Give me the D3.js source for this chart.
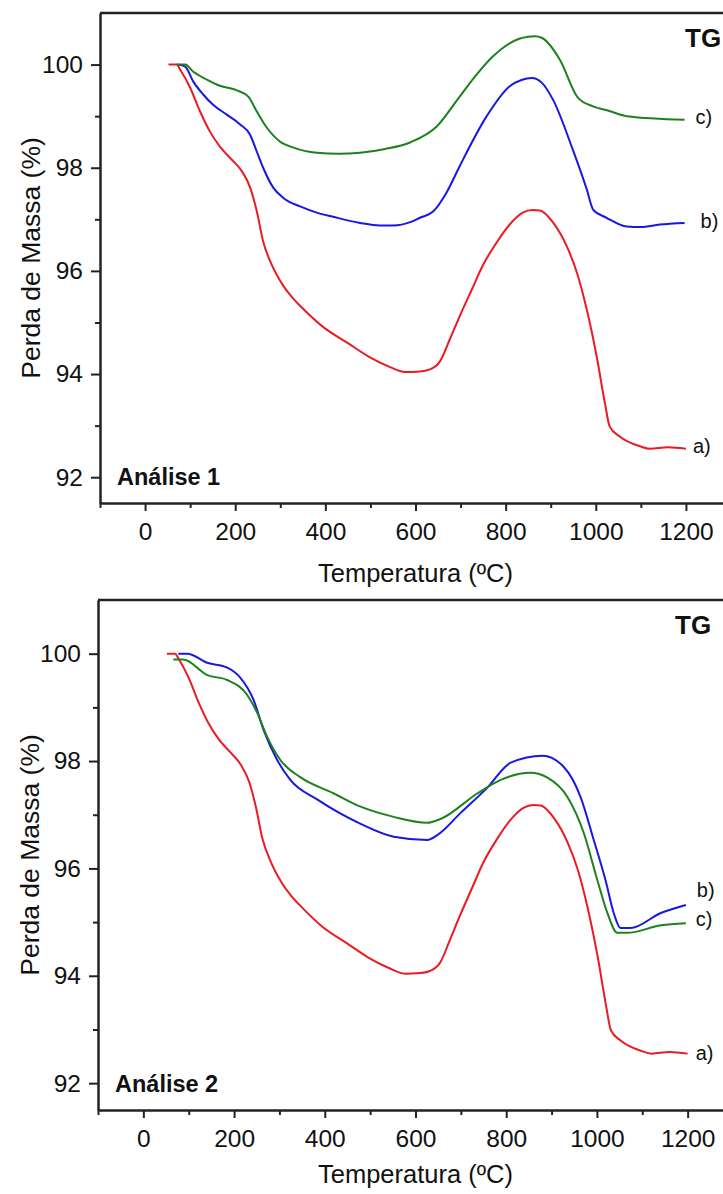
<!DOCTYPE html>
<html>
<head>
<meta charset="utf-8">
<script src="https://cdn.jsdelivr.net/npm/d3@7"></script>
<style>
  html, body { margin: 0; padding: 0; background: #fff; }
  svg { display: block; }
  text { font-family: "Liberation Sans", Arial, Helvetica, sans-serif; fill: #111; }
</style>
</head>
<body>
<svg id="chart" width="723" height="1194"></svg>
<script>
// ---------- data ----------
const xTickValues = [0, 200, 400, 600, 800, 1000, 1200];
const yTickValues = [92, 94, 96, 98, 100];
const xLabel = "Temperatura (ºC)";
const yLabel = "Perda de Massa (%)";
const panelTitles = ["Análise 1", "Análise 2"];
const cornerLabel = "TG";

// a) — same curve in both panels
const tempA = [52, 62, 70, 78, 100, 122, 144, 166, 192, 215, 233, 248, 262, 281, 306, 325, 350, 394, 450, 496, 540, 577, 610, 632, 654, 676, 698, 725, 749, 780, 809, 838, 860, 876, 905, 936, 958, 980, 1002, 1020, 1031, 1053, 1098, 1120, 1160, 1200];
const massA = [100, 100, 100, 99.9, 99.55, 99.09, 98.7, 98.41, 98.16, 97.93, 97.62, 97.15, 96.57, 96.12, 95.72, 95.5, 95.27, 94.92, 94.6, 94.34, 94.15, 94.04, 94.05, 94.09, 94.24, 94.67, 95.12, 95.64, 96.1, 96.55, 96.9, 97.13, 97.18, 97.17, 96.94, 96.47, 95.97, 95.25, 94.34, 93.45, 92.98, 92.79, 92.6, 92.55, 92.58, 92.55];

// Análise 1, b)
const tempB1 = [73, 89, 107, 129, 151, 181, 211, 233, 248, 262, 284, 306, 344, 381, 417, 477, 521, 550, 590, 610, 639, 669, 698, 758, 809, 835, 858, 880, 905, 949, 980, 994, 1024, 1069, 1100, 1142, 1197];
const massB1 = [100, 99.96, 99.67, 99.42, 99.22, 99.03, 98.84, 98.64, 98.31, 98.0, 97.62, 97.42, 97.25, 97.13, 97.05, 96.93, 96.88, 96.88, 96.95, 97.03, 97.15, 97.52, 98.03, 99.0, 99.58, 99.7, 99.74, 99.65, 99.32, 98.35, 97.58, 97.19, 97.03, 96.86, 96.85, 96.9, 96.93];

// Análise 1, c)
const tempC1 = [70, 89, 107, 137, 166, 204, 229, 248, 270, 299, 329, 381, 430, 477, 530, 588, 647, 698, 735, 772, 830, 850, 865, 880, 920, 960, 994, 1030, 1069, 1197];
const massC1 = [100, 100, 99.86, 99.71, 99.59, 99.5, 99.38, 99.09, 98.78, 98.51, 98.39, 98.29, 98.27, 98.29, 98.36, 98.49, 98.8, 99.38, 99.8, 100.16, 100.5, 100.54, 100.55, 100.52, 100.1, 99.36, 99.19, 99.1, 99.0, 98.93];

// Análise 2, b)
const tempB2 = [77, 97, 141, 185, 214, 243, 265, 295, 324, 384, 479, 552, 626, 648, 699, 758, 810, 880, 927, 964, 993, 1019, 1037, 1052, 1074, 1141, 1196];
const massB2 = [100, 100, 99.83, 99.74, 99.55, 99.14, 98.58, 98.02, 97.65, 97.28, 96.83, 96.59, 96.53, 96.62, 97.03, 97.5, 97.97, 98.1, 97.89, 97.33, 96.53, 95.78, 95.17, 94.89, 94.89, 95.17, 95.32];

// Análise 2, c)
const tempC2 = [66, 88, 141, 185, 229, 251, 273, 302, 346, 419, 479, 552, 626, 655, 737, 788, 854, 891, 935, 971, 1001, 1023, 1045, 1067, 1141, 1196];
const massC2 = [99.89, 99.89, 99.6, 99.51, 99.23, 98.9, 98.45, 98.02, 97.7, 97.4, 97.15, 96.96, 96.85, 96.92, 97.4, 97.65, 97.78, 97.69, 97.33, 96.66, 95.78, 95.17, 94.8, 94.8, 94.94, 94.98];

const seriesNames = ["a)", "b)", "c)"];
const seriesColors = ["#ea1b22", "#1818e2", "#1d821d"];

// ---------- layout ----------
const panels = [
  { top: 13, bottom: 503, left: 100, right: 731, title: panelTitles[0],
    series: [[tempA, massA], [tempB1, massB1], [tempC1, massC1]],
    labelDy: [2, 3, 2], labelDx: [7, 16, 11], xTitleY: 582, yTitleX: 40, tgX: 685 },
  { top: 600, bottom: 1110, left: 98, right: 733, title: panelTitles[1],
    series: [[tempA, massA], [tempB2, massB2], [tempC2, massC2]],
    labelDy: [4, -10, 0], labelDx: [8, 11, 10], xTitleY: 1183, yTitleX: 39, tgX: 675 }
];

const svg = d3.select("#chart");

panels.forEach(p => {
  const x = d3.scaleLinear().domain([-100, 1300]).range([p.left, p.right]);
  const y = d3.scaleLinear().domain([91.5, 101]).range([p.bottom, p.top]);
  const g = svg.append("g");

  // x axis: minor ticks
  const xMinor = d3.range(-100, 1301, 200);
  g.append("g")
    .attr("transform", `translate(0,${p.bottom})`)
    .call(d3.axisBottom(x).tickValues(xMinor).tickSize(5).tickFormat(""))
    .call(a => a.select(".domain").remove())
    .call(a => a.selectAll("line").attr("stroke", "#222").attr("stroke-width", 2));
  // x axis: major ticks
  g.append("g")
    .attr("transform", `translate(0,${p.bottom})`)
    .call(d3.axisBottom(x).tickValues(xTickValues).tickFormat(d3.format("d")).tickSize(8).tickPadding(12).tickSizeOuter(0))
    .call(a => a.select(".domain").attr("stroke", "#222").attr("stroke-width", 2.5))
    .call(a => a.selectAll("line").attr("stroke", "#222").attr("stroke-width", 2))
    .call(a => a.selectAll("text").style("font-size", "24.5px").attr("fill", "#111"));

  // y axis: minor ticks
  const yMinor = [93, 95, 97, 99];
  g.append("g")
    .attr("transform", `translate(${p.left},0)`)
    .call(d3.axisLeft(y).tickValues(yMinor).tickSize(5).tickFormat(""))
    .call(a => a.select(".domain").remove())
    .call(a => a.selectAll("line").attr("stroke", "#222").attr("stroke-width", 2));
  // y axis: major
  g.append("g")
    .attr("transform", `translate(${p.left},0)`)
    .call(d3.axisLeft(y).tickValues(yTickValues).tickFormat(d3.format("d")).tickSize(9).tickPadding(8).tickSizeOuter(0))
    .call(a => a.select(".domain").attr("stroke", "#222").attr("stroke-width", 2.5))
    .call(a => a.selectAll("line").attr("stroke", "#222").attr("stroke-width", 2))
    .call(a => a.selectAll("text").style("font-size", "24.5px").attr("fill", "#111"));

  // top frame line
  g.append("line")
    .attr("x1", p.left).attr("x2", p.right)
    .attr("y1", p.top).attr("y2", p.top)
    .attr("stroke", "#222").attr("stroke-width", 2.5);
  // right frame line (outside visible area)
  g.append("line")
    .attr("x1", p.right).attr("x2", p.right)
    .attr("y1", p.top).attr("y2", p.bottom)
    .attr("stroke", "#222").attr("stroke-width", 2.5);

  // curves
  const line = d3.line()
    .x(d => x(d[0])).y(d => y(d[1]))
    .curve(d3.curveMonotoneX);
  p.series.forEach((s, i) => {
    const pts = s[0].map((t, k) => [t, s[1][k]]);
    g.append("path")
      .datum(pts)
      .attr("d", line)
      .attr("fill", "none")
      .attr("stroke", seriesColors[i])
      .attr("stroke-width", 2)
      .attr("stroke-linejoin", "round");
    const last = pts[pts.length - 1];
    g.append("text")
      .attr("x", x(last[0]) + p.labelDx[i])
      .attr("y", y(last[1]) + p.labelDy[i])
      .attr("dy", "0.12em")
      .style("font-size", "20px")
      .text(seriesNames[i]);
  });

  // panel texts
  g.append("text")
    .attr("x", p.left + 17).attr("y", p.bottom - 18)
    .style("font-size", "23.5px").style("font-weight", "bold")
    .text(p.title);
  g.append("text")
    .attr("x", p.tgX).attr("y", p.top + 34)
    .style("font-size", "26px").style("font-weight", "bold")
    .text(cornerLabel);

  // axis titles
  g.append("text")
    .attr("x", (p.left + p.right) / 2).attr("y", p.xTitleY)
    .attr("text-anchor", "middle")
    .style("font-size", "25.5px")
    .text(xLabel);
  g.append("text")
    .attr("transform", `translate(${p.yTitleX},${(p.top + p.bottom) / 2}) rotate(-90)`)
    .attr("text-anchor", "middle")
    .style("font-size", "26.5px")
    .text(yLabel);
});
</script>
</body>
</html>
